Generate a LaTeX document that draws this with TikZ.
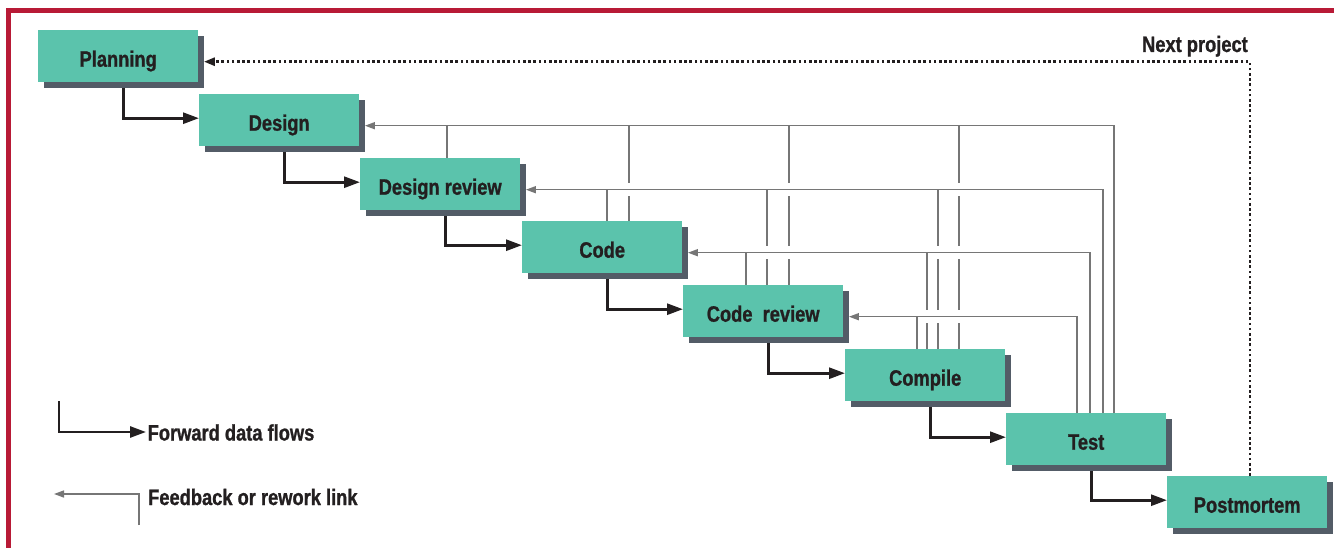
\documentclass[tikz,border=0pt]{standalone}
\usepackage{fontspec}
\newfontfamily\labfont{Liberation Sans}[FakeStretch=0.82,FakeBold=1]
\usetikzlibrary{arrows.meta,shadows,calc}
\definecolor{boxc}{HTML}{5BC3AC}
\definecolor{shadc}{HTML}{535C67}
\definecolor{ink}{HTML}{231F20}
\definecolor{fbc}{HTML}{767676}
\definecolor{framec}{HTML}{B81A36}
\begin{document}
\begin{tikzpicture}[x=1pt,y=-1pt,
  labtext/.style={font=\labfont\bfseries\fontsize{22.3}{24}\selectfont, text=ink},
  stage/.style={labtext, fill=boxc, minimum width=160pt, minimum height=52pt,
    inner sep=0pt, anchor=north west, text height=21pt, text depth=0pt,
    drop shadow={shadow xshift=5.5pt,shadow yshift=-5.5pt,fill=shadc,opacity=1}},
  lbl/.style={labtext, inner sep=0pt},
  fwd/.style={draw=ink, line width=2.7pt, -{Triangle[length=16pt,width=11pt]}},
  fbk/.style={draw=fbc, line width=1.5pt},
  fbarrow/.style={fbk, -{Triangle[length=10pt,width=7pt]}},
  nextp/.style={draw=ink, line width=2.6pt, dash pattern=on 2.6pt off 2.6pt,
    -{Triangle[length=11pt,width=8pt]}}
]
\useasboundingbox (0,0) rectangle (1334,548);
\fill[white] (0,0) rectangle (1334,548);
% frame
\draw[framec, line width=5.5pt] (8.7,560) -- (8.7,10.3) -- (1345,10.3);

% stages
\node[stage] (plan) at (38,30) {Planning};
\node[stage] (des)  at (199,94) {Design};
\node[stage] (drev) at (360,158) {Design review};
\node[stage] (code) at (522,221) {Code};
\node[stage] (crev) at (683,285) {Code\ \ review};
\node[stage] (comp) at (845,349) {Compile};
\node[stage] (test) at (1006,413) {Test};
\node[stage] (post) at (1167,476) {Postmortem};

% feedback line targets (shadow east)
\coordinate (L1) at ([xshift=5.5pt,yshift=-5.5pt]des.east);
\coordinate (L2) at ([xshift=5.5pt,yshift=-5.5pt]drev.east);
\coordinate (L3) at ([xshift=5.5pt,yshift=-5.5pt]code.east);
\coordinate (L4) at ([xshift=5.5pt,yshift=-5.5pt]crev.east);

% branch verticals joining feedback lines
\foreach \x/\n/\l in {447/drev/L1, 607/code/L2, 629/code/L1,
    746/crev/L3, 767/crev/L2, 789/crev/L1,
    917/comp/L4, 927/comp/L3, 938/comp/L2, 959/comp/L1}
  \draw[fbk] (\x,0 |- \n.north) -- (\x,0 |- \l);

% gaps where verticals cross feedback lines
\foreach \x/\l in {629/L2, 767/L3, 789/L3, 789/L2, 927/L4, 938/L4, 938/L3,
    959/L4, 959/L3, 959/L2}
  \fill[white] ($(\x,0 |- \l)+(-2.5,-6.5)$) rectangle ++(5,13);

% main feedback lines from Test
\draw[fbarrow] (1114,0 |- test.north) |- (L1);
\draw[fbarrow] (1103,0 |- test.north) |- (L2);
\draw[fbarrow] (1090,0 |- test.north) |- (L3);
\draw[fbarrow] (1077,0 |- test.north) |- (L4);

% forward flows
\foreach \a/\b in {plan/des, des/drev, drev/code, code/crev, crev/comp, comp/test, test/post}
  \draw[fwd] ([xshift=5.5pt,yshift=-5.5pt]\a.south) |- ([yshift=2pt]\b.west);

% next project
\draw[nextp] ([xshift=83pt]post.north west) |- ([xshift=5.5pt,yshift=-5.5pt]plan.east);
\node[lbl, anchor=base east] (np) at (1248,52) {Next project};

% legend
\coordinate (fwdstart) at (59,401);
\coordinate (fwdtip) at (146,432);
\draw[fwd] (fwdstart) |- (fwdtip);
\node[lbl, anchor=base west] (fwdtxt) at (147.5,440.5) {Forward data flows};
\coordinate (fbstart) at (139,525);
\coordinate (fbtip) at (54,494);
\draw[fbarrow] (fbstart) |- (fbtip);
\node[lbl, anchor=base west] (fbtxt) at (148,505) {Feedback or rework link};
\end{tikzpicture}
\end{document}
